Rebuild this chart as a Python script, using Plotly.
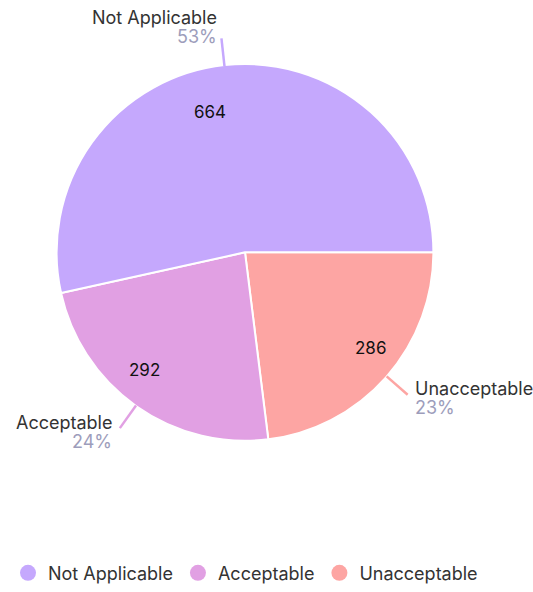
import math
import plotly.graph_objects as go

categories = ["Not Applicable", "Acceptable", "Unacceptable"]
values = [664, 292, 286]
colors = ["#c5a8fd", "#e1a0e3", "#fda5a3"]

W, H = 533, 592
CX, CY, R = 245, 254.5, 190
# small pixel nudges of the inside value labels (style only)
value_nudges = [(-19, 10), (-13, -6), (12, -4)]

fig = go.Figure()
# drawn clockwise from 3 o'clock in reverse order == counterclockwise in given order
fig.add_trace(go.Pie(
    labels=categories[::-1], values=values[::-1], sort=False,
    direction="clockwise", rotation=90,
    marker=dict(colors=colors[::-1], line=dict(color="white", width=2)),
    textinfo="none", hoverinfo="label+value+percent", showlegend=False,
    domain=dict(x=[(CX - R) / W, (CX + R) / W], y=[1 - (CY + R) / H, 1 - (CY - R) / H]),
))

# legend entries as circles
for c, col in zip(categories, colors):
    fig.add_trace(go.Scatter(x=[None], y=[None], mode="markers", name=c,
                             marker=dict(symbol="circle", size=18, color=col)))

def px2paper(x, y):
    return x / W, 1 - y / H

total = sum(values)
start = 0.0
annotations = []
shapes = []
for c, v, col, nud in zip(categories, values, colors, value_nudges):
    frac = v / total
    mid = start + frac * 180.0  # degrees CCW from east
    start += frac * 360.0
    a = math.radians(mid)
    ux, uy = math.cos(a), -math.sin(a)
    # value inside
    rin = 0.80 * R
    vx, vy = px2paper(CX + rin * ux + nud[0], CY + rin * uy + nud[1])
    annotations.append(dict(x=vx, y=vy, xref="paper", yref="paper", text=str(v),
                            xanchor="center", yanchor="middle",
                            showarrow=False, font=dict(size=17, color="#111111")))
    # leader line
    x0, y0 = CX + (R - 1) * ux, CY + (R - 1) * uy
    x1, y1 = CX + (R + 27) * ux, CY + (R + 27) * uy
    p0 = px2paper(x0, y0); p1 = px2paper(x1, y1)
    shapes.append(dict(type="line", xref="paper", yref="paper", x0=p0[0], y0=p0[1],
                       x1=p1[0], y1=p1[1], line=dict(color=col, width=2.5)))
    pct = f"{round(frac * 100)}%"
    if ux >= 0.2:
        xanchor = "left"; tx = x1 + 5
    elif ux <= -0.2:
        xanchor = "right"; tx = x1 - 6
    else:
        xanchor = "right"; tx = x1 - 2
    if uy < -0.9:
        ty_name, ty_pct = y1 - 21, y1 - 2
    else:
        ty_name, ty_pct = y1 - 6, y1 + 13
    nx, ny = px2paper(tx, ty_name)
    qx, qy = px2paper(tx, ty_pct)
    annotations.append(dict(x=nx, y=ny, xref="paper", yref="paper", text=c, showarrow=False,
                            xanchor=xanchor, yanchor="middle",
                            font=dict(size=18, color="#333333")))
    annotations.append(dict(x=qx, y=qy, xref="paper", yref="paper", text=pct, showarrow=False,
                            xanchor=xanchor, yanchor="middle",
                            font=dict(size=18, color="#9d9dbb")))

fig.update_layout(
    width=W, height=H,
    margin=dict(l=0, r=0, t=0, b=0),
    paper_bgcolor="white", plot_bgcolor="white",
    font=dict(family="Inter, Lato, sans-serif", size=18, color="#333333"),
    xaxis=dict(visible=False), yaxis=dict(visible=False),
    annotations=annotations, shapes=shapes,
    legend=dict(orientation="h", x=8 / W, y=14 / H, xanchor="left", yanchor="middle",
                font=dict(size=18, color="#333333"), itemsizing="trace",
                itemclick=False, tracegroupgap=0),
    showlegend=True,
)
fig.write_html("out.html", config={"displayModeBar": False},
               post_script="document.body.style.margin='0';")
